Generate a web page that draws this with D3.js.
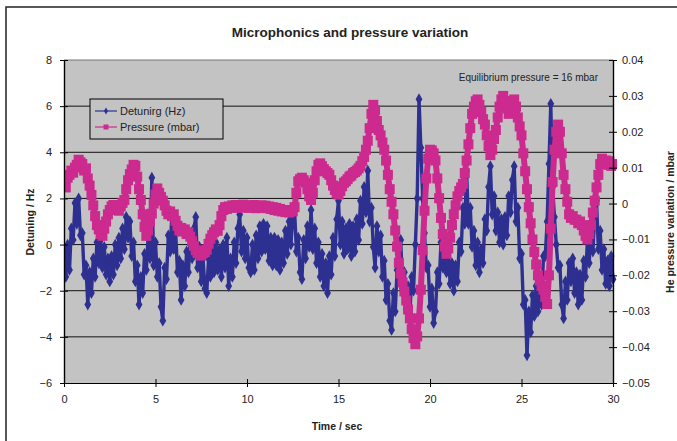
<!DOCTYPE html>
<html><head><meta charset="utf-8">
<script src="https://cdn.jsdelivr.net/npm/d3@7"></script>
<style>body{margin:0;background:#fff}svg{display:block}text{font-family:"Liberation Sans",Arial,sans-serif}</style>
</head><body><svg id="c" width="677" height="441"></svg>
<script>
const timeStep = 0.1; // seconds between samples
const detuning = [
-0.2,-1.4,0.0,-1.1,0.7,0.2,1.8,0.9,2.0,0.4,
0.5,-1.3,-0.9,-2.6,-1.2,-2.1,-0.6,-1.4,0.1,-0.8,
0.2,-1.0,-0.1,-1.3,-0.6,-1.6,-0.5,-1.3,0.0,-0.9,
0.3,-0.6,0.7,-0.2,1.2,0.3,1.0,-0.5,0.1,-1.6,
-0.9,-2.6,-1.4,-2.1,-0.4,-1.1,0.4,-0.6,2.9,-0.9,
0.1,-1.4,-0.8,-2.7,-3.3,-1.0,-1.5,0.4,-0.3,1.4,
-0.2,0.6,-1.2,-0.7,-2.4,-0.9,-1.8,-0.3,-1.2,0.3,
-0.6,0.7,1.2,-1.0,-0.1,-1.6,-0.6,-1.9,-2.1,-0.6,
-1.4,-0.1,-1.2,0.1,-1.1,-0.2,-1.4,0.0,-1.0,0.3,
-1.8,-0.6,-1.4,0.1,-0.8,0.7,1.3,-0.3,0.6,-0.6,
0.3,-1.0,-1.2,0.0,-1.1,0.4,-0.6,0.8,-0.3,0.9,
-0.2,0.8,-0.7,0.3,-0.9,0.3,-0.9,0.2,-1.1,0.1,
-0.8,0.6,-0.4,1.0,0.0,1.2,1.5,-0.3,0.3,-1.2,
-1.5,0.2,-0.6,0.8,-0.1,1.5,-0.2,0.7,-0.8,0.1,
-1.4,-0.4,-1.8,-0.8,-2.1,-0.5,-1.3,0.3,-0.5,1.1,
1.9,0.0,1.0,-0.4,0.7,-0.2,0.9,-0.5,0.8,-0.3,
1.1,0.2,1.9,0.9,2.5,1.4,3.2,1.0,1.6,-0.1,
-1.0,0.8,-0.3,0.4,-1.4,-0.7,-2.4,-1.7,-3.3,-3.7,
-2.1,-2.9,-1.1,-1.6,0.2,-1.9,-1.2,-2.8,-1.8,-3.0,
-1.4,-2.0,0.0,2.0,6.3,4.2,2.0,0.5,-1.0,-0.9,
-2.7,-1.9,-3.4,-2.9,-1.2,-1.7,0.1,-1.0,0.3,-1.2,
-0.2,-1.7,-0.8,-2.0,-0.9,-1.6,0.1,-0.3,1.6,0.9,
3.2,0.9,1.6,-0.1,0.6,-0.9,0.1,-1.2,-0.2,-0.8,
1.1,0.6,2.5,3.4,1.3,2.1,0.6,1.4,0.1,1.1,
0.0,1.2,0.4,2.1,1.4,2.8,3.4,1.0,1.6,-0.6,
-0.4,-2.6,-2.4,-4.8,-2.9,-3.8,-2.2,-3.1,-1.8,-2.9,
-1.6,-2.6,-0.5,-0.5,1.0,3.5,6.1,2.5,1.2,0.0,
-1.0,-0.9,-2.6,-3.2,-1.6,-2.4,-0.8,-1.6,-0.6,-2.1,
-1.2,-2.6,-1.3,-2.4,-0.7,-1.4,0.1,-0.8,0.6,-0.3,
1.2,1.9,-0.2,0.6,-1.1,-0.2,-1.7,-0.7,-1.8,-0.5,
-1.5];
const pressure = [
.0055,.0045,.0072,.0080,.0092,.0086,.0100,.0108,.0122,.0115,
.0110,.0092,.0098,.0070,.0050,.0024,-.0005,-.0035,-.0060,-.0072,
-.0085,-.0090,-.0070,-.0050,-.0030,-.0018,-.0008,-.0004,-.0015,-.0010,
-.0020,-.0008,.0002,.0010,.0040,.0065,.0082,.0095,.0108,.0105,
.0075,.0040,.0010,-.0030,-.0065,-.0090,-.0075,-.0050,-.0028,.0000,
.0025,.0042,.0030,.0018,.0008,-.0005,-.0020,-.0030,-.0022,-.0035,
-.0030,-.0048,-.0062,-.0075,-.0068,-.0078,-.0072,-.0085,-.0080,-.0092,
-.0105,-.0118,-.0130,-.0138,-.0132,-.0145,-.0138,-.0135,-.0128,-.0112,
-.0098,-.0088,-.0080,-.0072,-.0076,-.0060,-.0035,-.0018,-.0010,-.0015,
-.0008,-.0012,-.0005,-.0010,-.0004,-.0012,-.0006,-.0010,-.0003,-.0011,
-.0005,-.0012,-.0006,-.0010,-.0004,-.0013,-.0007,-.0012,-.0005,-.0010,
-.0006,-.0013,-.0008,-.0015,-.0010,-.0018,-.0012,-.0020,-.0015,-.0022,
-.0018,-.0024,-.0020,-.0025,-.0018,-.0022,-.0010,.0030,.0062,.0068,
.0072,.0065,.0058,.0040,.0020,.0010,.0030,.0065,.0090,.0108,
.0112,.0104,.0096,.0090,.0085,.0080,.0065,.0050,.0038,.0028,
.0025,.0035,.0048,.0058,.0062,.0068,.0075,.0078,.0085,.0088,
.0092,.0098,.0105,.0118,.0130,.0150,.0175,.0210,.0250,.0275,
.0260,.0230,.0205,.0190,.0170,.0150,.0120,.0080,.0040,.0005,
-.0030,-.0075,-.0120,-.0165,-.0195,-.0220,-.0245,-.0270,-.0295,-.0320,
-.0350,-.0375,-.0392,-.0370,-.0320,-.0240,-.0130,-.0020,.0070,.0125,
.0150,.0148,.0140,.0120,.0070,.0015,-.0040,-.0085,-.0120,-.0140,
-.0125,-.0095,-.0060,-.0030,-.0005,.0020,.0035,.0045,.0055,.0085,
.0120,.0165,.0210,.0250,.0270,.0285,.0290,.0275,.0255,.0235,
.0220,.0190,.0160,.0135,.0150,.0180,.0205,.0240,.0270,.0290,
.0300,.0285,.0265,.0250,.0270,.0285,.0290,.0270,.0240,.0215,
.0190,.0140,.0090,.0040,-.0010,-.0055,-.0100,-.0135,-.0170,-.0200,
-.0215,-.0230,-.0240,-.0260,-.0280,-.0200,-.0070,.0060,.0150,.0200,
.0220,.0200,.0140,.0080,.0040,.0005,-.0030,-.0040,-.0035,-.0045,
-.0045,-.0055,-.0050,-.0060,-.0075,-.0090,-.0100,-.0085,-.0060,-.0025,
.0008,.0045,.0080,.0110,.0125,.0115,.0120,.0108,.0118,.0105,
.0110];
const xTicks = [0,5,10,15,20,25,30];
const leftTicks = [-6,-4,-2,0,2,4,6,8];
const rightTicks = [-0.05,-0.04,-0.03,-0.02,-0.01,0,0.01,0.02,0.03,0.04];
const seriesNames = ["Detunirg (Hz)","Pressure (mbar)"];
const titleText = "Microphonics and pressure variation";
const noteText = "Equilibrium pressure =  16 mbar";

const BLUE = "#2d3090", MAG = "#cc2a8e";
const svg = d3.select("#c");
const L = 64, R = 613, T = 60, B = 383;
const x = d3.scaleLinear().domain([0,30]).range([L,R]);
const yL = d3.scaleLinear().domain([-6,8]).range([B,T]);
const yR = d3.scaleLinear().domain([-0.05,0.04]).range([B,T]);

svg.append("rect").attr("x",6).attr("y",7).attr("width",690).attr("height",460)
  .attr("fill","#fff").attr("stroke","#222").attr("stroke-width",1.5);
svg.append("rect").attr("x",L).attr("y",T).attr("width",R-L).attr("height",B-T).attr("fill","#c3c3c3");
svg.append("line").attr("x1",L).attr("x2",R).attr("y1",T).attr("y2",T).attr("stroke","#777").attr("stroke-width",1);
svg.append("g").selectAll("line").data(leftTicks.filter(d=>d>-6&&d<8)).join("line")
  .attr("x1",L).attr("x2",R).attr("y1",d=>yL(d)).attr("y2",d=>yL(d)).attr("stroke","#111").attr("stroke-width",1);

svg.append("defs").append("clipPath").attr("id","clip").append("rect")
  .attr("x",L).attr("y",T-4).attr("width",R-L+4).attr("height",B-T+8);
const plot = svg.append("g").attr("clip-path","url(#clip)");

const detData = detuning.map((v,i)=>({t:i*timeStep,v}));
const preData = pressure.map((v,i)=>({t:i*timeStep,v}));

plot.append("path").datum(detData).attr("fill","none").attr("stroke",BLUE).attr("stroke-width",3.4)
  .attr("stroke-linejoin","round")
  .attr("d",d3.line().x(d=>x(d.t)).y(d=>yL(d.v)));
plot.append("g").selectAll("path").data(detData).join("path")
  .attr("transform",d=>`translate(${x(d.t)},${yL(d.v)})`)
  .attr("d",d3.symbol(d3.symbolDiamond,40)).attr("fill",BLUE);

plot.append("path").datum(preData).attr("fill","none").attr("stroke",MAG).attr("stroke-width",6)
  .attr("stroke-linejoin","round")
  .attr("d",d3.line().x(d=>x(d.t)).y(d=>yR(d.v)));
plot.append("g").selectAll("rect").data(preData).join("rect")
  .attr("x",d=>x(d.t)-5).attr("y",d=>yR(d.v)-5).attr("width",10).attr("height",10).attr("fill",MAG);

function styleAxis(g){
  g.selectAll(".domain").attr("stroke","#000").attr("stroke-width",1.2);
  g.selectAll(".tick line").attr("stroke","#000");
  g.selectAll("text").attr("font-size",11).attr("fill","#222").attr("font-family","Liberation Sans, Arial, sans-serif");
}
svg.append("g").attr("transform",`translate(${L},0)`)
  .call(d3.axisLeft(yL).tickValues(leftTicks).tickSizeInner(4).tickSizeOuter(0).tickPadding(8)).call(styleAxis);
svg.append("g").attr("transform",`translate(${L},0)`)
  .call(d3.axisRight(yL).tickValues(leftTicks).tickSizeInner(4).tickSizeOuter(0).tickFormat("")).call(styleAxis);
svg.append("g").attr("transform",`translate(${R},0)`)
  .call(d3.axisRight(yR).tickValues(rightTicks).tickSizeInner(4).tickSizeOuter(0).tickPadding(5)
    .tickFormat(d=>d===0?"0":d3.format(".2~f")(d))).call(styleAxis);
svg.append("g").attr("transform",`translate(${R},0)`)
  .call(d3.axisLeft(yR).tickValues(rightTicks).tickSizeInner(4).tickSizeOuter(0).tickFormat("")).call(styleAxis);
svg.append("g").attr("transform",`translate(0,${B})`)
  .call(d3.axisBottom(x).tickValues(xTicks).tickSizeInner(4).tickSizeOuter(0).tickPadding(8)).call(styleAxis);
svg.append("g").attr("transform",`translate(0,${B})`)
  .call(d3.axisTop(x).tickValues(xTicks).tickSizeInner(4).tickSizeOuter(0).tickFormat("")).call(styleAxis);

svg.append("text").attr("x",350).attr("y",37).attr("text-anchor","middle").attr("font-size",13.5)
  .attr("font-weight","bold").attr("fill","#222").text(titleText);
svg.append("text").attr("x",598).attr("y",81).attr("text-anchor","end").attr("font-size",10)
  .attr("fill","#222").text(noteText);
svg.append("text").attr("transform","translate(34,222) rotate(-90)").attr("text-anchor","middle")
  .attr("font-size",10.5).attr("font-weight","bold").attr("fill","#222").text("Detuning / Hz");
svg.append("text").attr("transform","translate(674,222) rotate(-90)").attr("text-anchor","middle")
  .attr("font-size",10.5).attr("font-weight","bold").attr("fill","#222").text("He pressure variation / mbar");
svg.append("text").attr("x",337).attr("y",430).attr("text-anchor","middle")
  .attr("font-size",10.5).attr("font-weight","bold").attr("fill","#222").text("Time / sec");

const lg = svg.append("g").attr("transform","translate(90,99)");
lg.append("rect").attr("width",133).attr("height",40).attr("fill","#c3c3c3").attr("stroke","#000").attr("stroke-width",1);
const colors=[BLUE,MAG];
seriesNames.forEach((n,i)=>{
  const yy = 12 + i*16;
  lg.append("line").attr("x1",5).attr("x2",27).attr("y1",yy).attr("y2",yy).attr("stroke",colors[i]).attr("stroke-width",1.2);
  if(i===0) lg.append("path").attr("transform",`translate(16,${yy})`).attr("d",d3.symbol(d3.symbolDiamond,14)).attr("fill",BLUE);
  else lg.append("rect").attr("x",13.5).attr("y",yy-2.5).attr("width",5).attr("height",5).attr("fill",MAG);
  lg.append("text").attr("x",30).attr("y",yy+4).attr("font-size",11).attr("fill","#222").text(n);
});
</script></body></html>
